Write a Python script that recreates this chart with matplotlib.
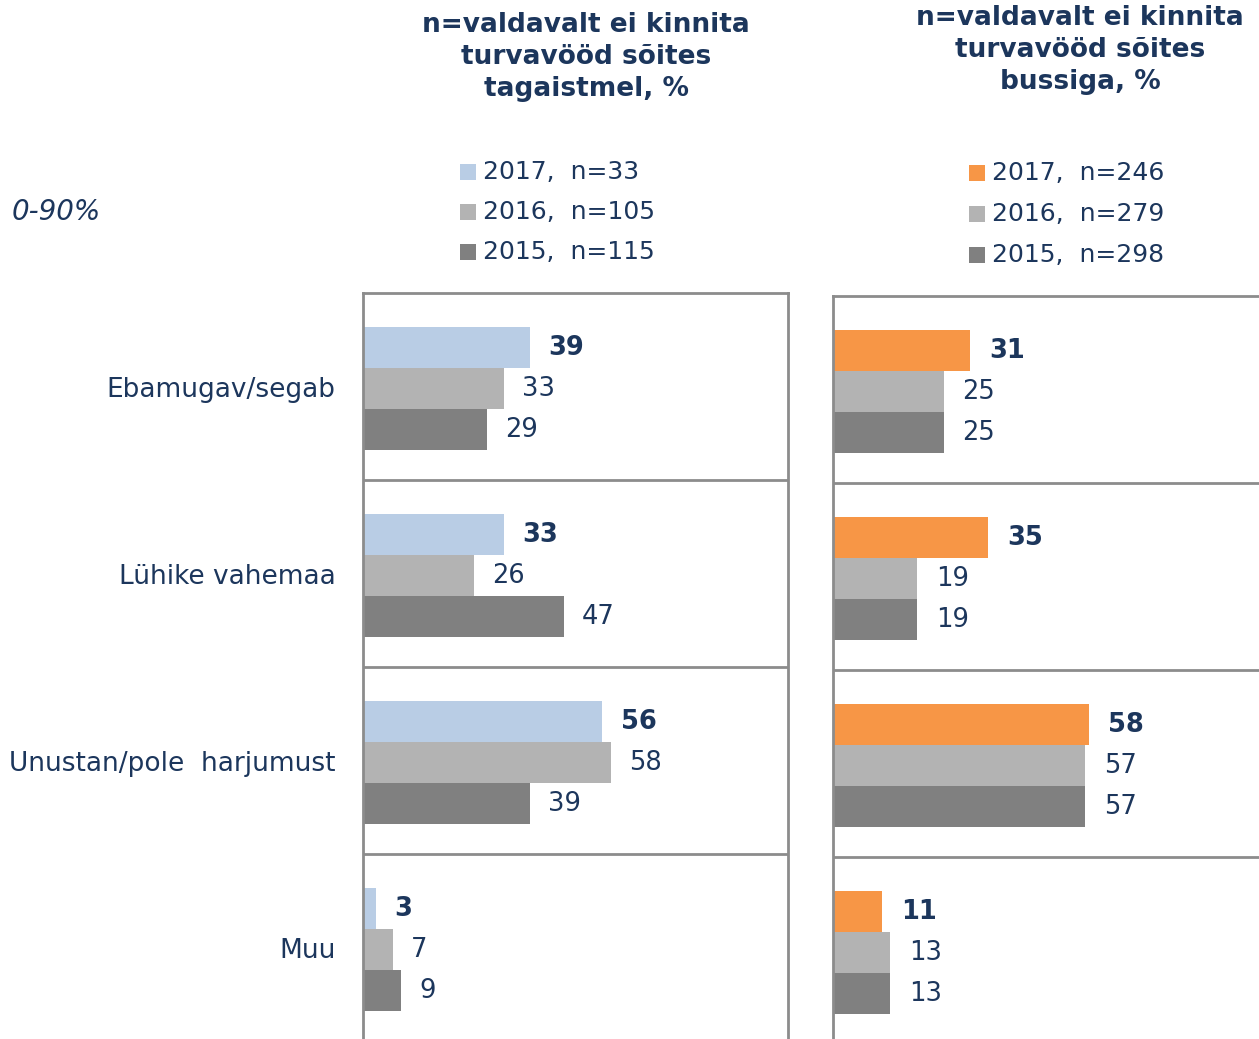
import matplotlib
matplotlib.use("Agg")
from matplotlib import pyplot as plt
from matplotlib.patches import Rectangle

categories = ["Ebamugav/segab", "Lühike vahemaa", "Unustan/pole  harjumust", "Muu"]

years = ["2017", "2016", "2015"]

back_n = [33, 105, 115]
back_values = {
    "2017": [39, 33, 56, 3],
    "2016": [33, 26, 58, 7],
    "2015": [29, 47, 39, 9],
}

bus_n = [246, 279, 298]
bus_values = {
    "2017": [31, 35, 58, 11],
    "2016": [25, 19, 57, 13],
    "2015": [25, 19, 57, 13],
}

title_back = "n=valdavalt ei kinnita\nturvavööd sõites\ntagaistmel, %"
title_bus = "n=valdavalt ei kinnita\nturvavööd sõites\nbussiga, %"

navy = "#1c365c"
frame = "#8c8c8c"
colors_back = ["#b9cde5", "#b3b3b3", "#808080"]
colors_bus = ["#f79646", "#b3b3b3", "#808080"]

W, H = 1259, 1039
fig = plt.figure(figsize=(W / 100, H / 100), dpi=100)


def make_panel(left_px, top_px, width_px, xmax, values, colors):
    row_h = 187
    ax = fig.add_axes([left_px / W, 1 - (top_px + 4 * row_h) / H,
                       width_px / W, 4 * row_h / H])
    ax.set_xlim(0, xmax)
    ax.set_ylim(4, 0)
    bh = 41 / row_h
    for j, y in enumerate(years):
        vals = values[y]
        pos = [i + 0.5 + (j - 1) * bh + 0.01 for i in range(len(vals))]
        ax.barh(pos, vals, height=bh, color=colors[j], edgecolor="none", zorder=2)
        for p, v in zip(pos, vals):
            ax.text(v + 4.3, p + 0.005, str(v), va="center", ha="left",
                    fontsize=18.5, color=navy,
                    fontweight="bold" if j == 0 else "normal")
    for k in range(1, 4):
        ax.axhline(k, color=frame, lw=2, zorder=3)
    for s in ["left", "top", "right"]:
        ax.spines[s].set_color(frame)
        ax.spines[s].set_linewidth(2)
    ax.spines["bottom"].set_visible(False)
    ax.set_xticks([])
    ax.set_yticks([])
    return ax


ax1 = make_panel(363, 293, 425, 99.5, back_values, colors_back)
ax2 = make_panel(833, 296, 432, 97.7, bus_values, colors_bus)

# category labels
for i, c in enumerate(categories):
    ax1.text(-0.065, i + 0.52, c, transform=ax1.get_yaxis_transform(),
             ha="right", va="center", fontsize=19, color=navy)

# titles
fig.text(586 / W, 1 - 57 / H, title_back, ha="center", va="center",
         fontsize=19, fontweight="bold", color=navy, linespacing=1.3)
fig.text(1080 / W, 1 - 50 / H, title_bus, ha="center", va="center",
         fontsize=19, fontweight="bold", color=navy, linespacing=1.3)

fig.text(12 / W, 1 - 212 / H, "0-90%", ha="left", va="center",
         fontsize=20, style="italic", color=navy)


def legend(x_px, y0_px, step, ns, colors):
    for j, (y, n) in enumerate(zip(years, ns)):
        yc = y0_px + j * step
        fig.patches.append(Rectangle((x_px / W, 1 - (yc + 8) / H), 16 / W, 16 / H,
                                     transform=fig.transFigure,
                                     facecolor=colors[j], edgecolor="none"))
        fig.text((x_px + 23) / W, 1 - yc / H, f"{y},  n={n}", ha="left",
                 va="center", fontsize=18, color=navy)


legend(460, 172, 40, back_n, colors_back)
legend(969, 173, 41, bus_n, colors_bus)

fig.savefig("out.png", dpi=100)
